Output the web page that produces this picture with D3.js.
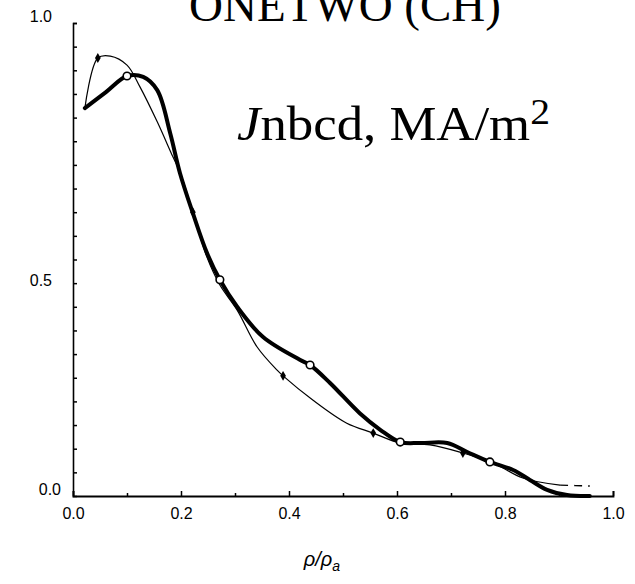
<!DOCTYPE html>
<html>
<head>
<meta charset="utf-8">
<script src="https://cdn.jsdelivr.net/npm/d3@7"></script>
<style>
  html, body { margin: 0; padding: 0; background: #fff; }
  svg { display: block; }
</style>
</head>
<body>
<div id="chart"></div>
<script>
// ---- data ----
const thickX = [0.022, 0.061, 0.1, 0.13, 0.156, 0.18, 0.198, 0.222, 0.248, 0.272, 0.304, 0.352, 0.42, 0.439, 0.476, 0.531, 0.569, 0.606, 0.643, 0.693, 0.73, 0.772, 0.815, 0.846, 0.878, 0.915, 0.957];
const thickY = [0.820, 0.854, 0.888, 0.886, 0.858, 0.767, 0.683, 0.598, 0.514, 0.457, 0.400, 0.336, 0.288, 0.277, 0.239, 0.175, 0.140, 0.114, 0.112, 0.112, 0.093, 0.072, 0.055, 0.034, 0.013, 0.002, 0.0];
const thickMarkX = [0.1, 0.272, 0.439, 0.606, 0.772];
const thickMarkY = [0.888, 0.457, 0.277, 0.114, 0.072];

const thinX = [0.022, 0.046, 0.069, 0.1, 0.124, 0.156, 0.185, 0.198, 0.222, 0.248, 0.272, 0.304, 0.341, 0.378, 0.389, 0.444, 0.507, 0.556, 0.606, 0.661, 0.722, 0.778, 0.833, 0.902];
const thinY = [0.820, 0.926, 0.930, 0.911, 0.865, 0.791, 0.717, 0.685, 0.600, 0.505, 0.446, 0.393, 0.315, 0.266, 0.254, 0.203, 0.154, 0.133, 0.112, 0.108, 0.091, 0.070, 0.038, 0.023];
const thinTailX = [0.902, 0.93, 0.957];
const thinTailY = [0.023, 0.022, 0.021];
const thinMarkX = [0.046, 0.222, 0.389, 0.556, 0.722];
const thinMarkY = [0.926, 0.600, 0.254, 0.133, 0.091];

const xTicks = [0.0, 0.2, 0.4, 0.6, 0.8, 1.0];
const xTickLabels = ["0.0", "0.2", "0.4", "0.6", "0.8", "1.0"];
const xMinorTicks = [0.1, 0.3, 0.5, 0.7, 0.9];
const yTicks = [0.0, 0.5, 1.0];
const yTickLabels = ["0.0", "0.5", "1.0"];
const yMinorTicks = [0.05, 0.1, 0.15, 0.2, 0.25, 0.3, 0.35, 0.4, 0.45, 0.5, 0.55, 0.6, 0.65, 0.7, 0.75, 0.8, 0.85, 0.9, 0.95, 1.0];

const titleText = "ONETWO (CH)";

// ---- layout ----
const W = 635, H = 584;
const x = d3.scaleLinear().domain([0, 1]).range([73, 613]);
const y = d3.scaleLinear().domain([0, 1]).range([496, 23]);

const svg = d3.select("#chart").append("svg").attr("width", W).attr("height", H);

// title (cut off at top, as in the reference scan)
svg.append("text")
  .attr("x", 345).attr("y", 21)
  .attr("text-anchor", "middle")
  .attr("font-family", "'Liberation Serif', 'Times New Roman', serif")
  .attr("font-size", 47)
  .text(titleText);

// axes
const xAxis = d3.axisBottom(x).tickValues(xTicks).tickSize(-5).tickPadding(12)
  .tickFormat((d, i) => xTickLabels[i]);
const gx = svg.append("g").attr("transform", `translate(0,${y(0)})`).call(xAxis);
gx.select(".domain").attr("stroke-width", 1.8);

const xAxisMinor = d3.axisBottom(x).tickValues(xMinorTicks).tickSize(-3).tickFormat("");
const gxm = svg.append("g").attr("transform", `translate(0,${y(0)})`).call(xAxisMinor);
gxm.select(".domain").remove();

const yAxisMinor = d3.axisLeft(y).tickValues(yMinorTicks).tickSize(-4).tickFormat("");
const gy = svg.append("g").attr("transform", `translate(${x(0)},0)`).call(yAxisMinor);
gy.select(".domain").attr("stroke-width", 1.6);

const yAxisLab = d3.axisLeft(y).tickValues(yTicks).tickSize(0).tickPadding(21)
  .tickFormat((d, i) => yTickLabels[i]);
const gyl = svg.append("g").attr("transform", `translate(${x(0)},0)`).call(yAxisLab);
gyl.select(".domain").remove();

svg.selectAll(".tick text")
  .attr("font-family", "'Liberation Sans', Arial, sans-serif")
  .attr("font-size", 16)
  .attr("fill", "#000");
svg.selectAll(".tick line").attr("stroke", "#000").attr("stroke-width", 1.5);
// label placement as printed in the scanned original
gyl.selectAll(".tick text")
  .attr("dx", d => d === 0 ? 9 : 0)
  .attr("dy", d => d === 0.5 ? "1.6em" : "-0.1em");

// lines
const lineGen = d3.line().x(d => x(d[0])).y(d => y(d[1])).curve(d3.curveCatmullRom.alpha(0.5));
const thinData = thinX.map((v, i) => [v, thinY[i]]);
const thinTail = thinTailX.map((v, i) => [v, thinTailY[i]]);
const thickData = thickX.map((v, i) => [v, thickY[i]]);

svg.append("path").datum(thinData)
  .attr("d", lineGen).attr("fill", "none").attr("stroke", "#000").attr("stroke-width", 1.2);
svg.append("path").datum(thinTail)
  .attr("d", lineGen).attr("fill", "none").attr("stroke", "#000").attr("stroke-width", 1.4)
  .attr("stroke-dasharray", "8,6");
svg.append("path").datum(thickData)
  .attr("d", lineGen).attr("fill", "none").attr("stroke", "#000").attr("stroke-width", 4)
  .attr("stroke-linejoin", "round").attr("stroke-linecap", "round");

// markers
const diamond = d3.symbol().type(d3.symbolDiamond).size(28);
svg.selectAll(".thinMark").data(thinMarkX.map((v, i) => [v, thinMarkY[i]])).enter()
  .append("path").attr("d", diamond)
  .attr("transform", d => `translate(${x(d[0])},${y(d[1])})`)
  .attr("fill", "#000");
svg.selectAll(".thickMark").data(thickMarkX.map((v, i) => [v, thickMarkY[i]])).enter()
  .append("circle").attr("cx", d => x(d[0])).attr("cy", d => y(d[1])).attr("r", 3.8)
  .attr("fill", "#fff").attr("stroke", "#000").attr("stroke-width", 1.6);

// in-plot label
const lab = svg.append("text")
  .attr("transform", "translate(237,140) scale(1.1,1)")
  .attr("font-family", "'Liberation Serif', 'Times New Roman', serif")
  .attr("font-size", 48);
lab.append("tspan").attr("font-style", "italic").text("J");
lab.append("tspan").text("nbcd, MA/m");
lab.append("tspan").attr("dy", -16).attr("font-size", 36).text("2");

// x axis title
const xt = svg.append("text")
  .attr("x", 322).attr("y", 566)
  .attr("text-anchor", "middle")
  .attr("font-family", "'Liberation Sans', Arial, sans-serif")
  .attr("font-style", "italic")
  .attr("font-size", 20);
xt.append("tspan").text("ρ/ρ");
xt.append("tspan").attr("dy", 5).attr("font-size", 14).text("a");
</script>
</body>
</html>
